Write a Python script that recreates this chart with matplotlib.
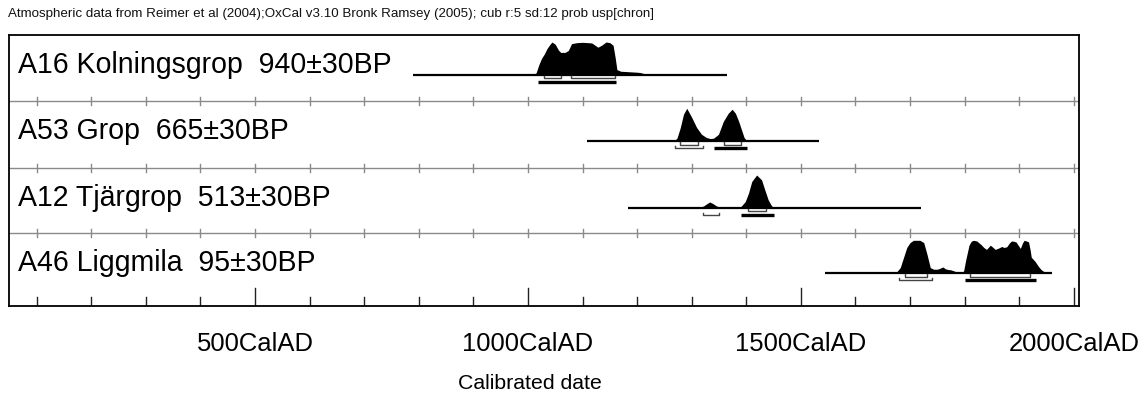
import matplotlib
matplotlib.use("Agg")
import matplotlib.pyplot as plt
import matplotlib.transforms as mtransforms
import numpy as np

# ---------------- data ----------------
title_text = ("Atmospheric data from Reimer et al (2004);OxCal v3.10 Bronk Ramsey (2005); "
              "cub r:5 sd:12 prob usp[chron]")
row_labels = ["A16 Kolningsgrop  940\u00b130BP",
              "A53 Grop  665\u00b130BP",
              "A12 Tj\u00e4rgrop  513\u00b130BP",
              "A46 Liggmila  95\u00b130BP"]

# extent of the plotted baseline (cal AD)
line_ranges = [(790, 1365), (1109, 1534), (1184, 1720), (1545, 1960)]

years1 = [1010, 1015, 1020, 1025, 1030, 1035, 1040, 1044, 1050, 1056, 1060, 1068, 1074,
          1080, 1090, 1100, 1110, 1117, 1123, 1128, 1135, 1143, 1150, 1156, 1160, 1163,
          1170, 1180, 1190, 1200, 1206, 1212, 1220]
dens1 = [0, 0.05, 0.3, 0.5, 0.63, 0.8, 0.92, 1.0, 0.93, 0.75, 0.68, 0.68, 0.74,
         0.95, 0.98, 0.99, 0.98, 0.97, 0.9, 0.84, 0.9, 1.0, 0.98, 0.9, 0.5, 0.15,
         0.1, 0.09, 0.08, 0.07, 0.06, 0.03, 0]

years2 = [1268, 1273, 1279, 1285, 1291, 1300, 1309, 1318, 1327, 1334, 1340, 1349,
          1358, 1367, 1374, 1380, 1386, 1392, 1396, 1401]
dens2 = [0, 0.08, 0.4, 0.82, 1.0, 0.72, 0.41, 0.2, 0.1, 0.07, 0.08, 0.2,
         0.6, 0.85, 0.97, 0.85, 0.6, 0.3, 0.1, 0]

years3 = [1315, 1322, 1328, 1333, 1339, 1345, 1352, 1370, 1389, 1398, 1404, 1410,
          1419, 1428, 1434, 1440, 1446, 1450]
dens3 = [0, 0.05, 0.12, 0.17, 0.12, 0.05, 0.01, 0.01, 0.01, 0.18, 0.44, 0.8,
         1.0, 0.85, 0.54, 0.24, 0.06, 0]

years4 = [1672, 1676, 1682, 1688, 1694, 1700, 1706, 1712, 1718, 1725, 1731, 1737,
          1743, 1750, 1755, 1760, 1765, 1770, 1775, 1780, 1785, 1792, 1798, 1802,
          1808, 1812, 1816, 1822, 1830, 1835, 1840, 1847, 1852, 1856, 1862, 1868,
          1872, 1877, 1882, 1886, 1890, 1894, 1898, 1902, 1906, 1909, 1913, 1917,
          1920, 1922, 1929, 1935, 1940, 1944, 1950]
dens4 = [0, 0.04, 0.16, 0.47, 0.78, 0.93, 1.0, 1.0, 1.0, 0.93, 0.57, 0.16,
         0.11, 0.11, 0.14, 0.18, 0.12, 0.1, 0.09, 0.06, 0.03, 0.01, 0.05, 0.4,
         0.85, 0.97, 1.0, 0.98, 0.87, 0.78, 0.72, 0.85, 0.78, 0.72, 0.76, 0.81,
         0.78, 0.8, 0.92, 0.98, 0.97, 0.95, 0.85, 0.75, 0.92, 1.0, 0.98, 0.95,
         0.7, 0.48, 0.35, 0.2, 0.1, 0.05, 0]

all_years = [years1, years2, years3, years4]
all_dens = [dens1, dens2, dens3, dens4]

# 68.2% ranges (brackets) and 95.4% ranges (brackets / main one as solid bar)
sig1_ranges = [[(1030, 1060), (1079, 1160)],
               [(1279, 1311), (1360, 1391)],
               [(1404, 1436)],
               [(1690, 1731), (1809, 1920)]]
sig2_open = [[],
             [(1270, 1320)],
             [(1321, 1350)],
             [(1680, 1740)]]
sig2_solid = [[(1019, 1162)],
              [(1340, 1401)],
              [(1390, 1450)],
              [(1800, 1930)]]

major_ticks = [500, 1000, 1500, 2000]
minor_ticks = list(range(100, 2001, 100))
tick_labels = ["500CalAD", "1000CalAD", "1500CalAD", "2000CalAD"]
xlabel_text = "Calibrated date"

# ---------------- layout ----------------
W, H = 1143, 410
fig = plt.figure(figsize=(W / 100, H / 100), dpi=100)
fonts = ["Liberation Sans Narrow", "Liberation Sans", "DejaVu Sans"]
plt.rcParams["font.family"] = fonts

ax_left, ax_right, ax_top, ax_bot = 9.3, 1079.3, 36.0, 306.7
ax = fig.add_axes([ax_left / W, 1 - ax_bot / H, (ax_right - ax_left) / W, (ax_bot - ax_top) / H])
ax_h = ax_bot - ax_top
ax.set_xlim(50, 2010)
ax.set_ylim(ax_h, 0)          # y in pixel-like units, 0 at top
ax.set_xticks([])
ax.set_yticks([])
for sp in ax.spines.values():
    sp.set_linewidth(1.3)
    sp.set_color("black")

row_tops = [0.0, 66.3, 133.0, 198.3]
base_off = 39.5
peak_h = 32.5
sep_color = "#8a8a8a"

# separators with cross ticks
for top in row_tops[1:]:
    ax.plot([50, 2010], [top, top], color=sep_color, lw=1.0, zorder=1)
    for t in minor_ticks:
        ax.plot([t, t], [top - 4, top + 4], color=sep_color, lw=1.0, zorder=1)

# bottom axis ticks
for t in minor_ticks:
    ln = 18 if t in major_ticks else 9
    ax.plot([t, t], [ax_h, ax_h - ln], color="#222222", lw=1.0, zorder=1)

for i in range(4):
    base = row_tops[i] + base_off
    yrs = np.array(all_years[i], dtype=float)
    dn = np.array(all_dens[i], dtype=float)
    lo, hi = line_ranges[i]
    ax.plot([lo, hi], [base, base], color="black", lw=1.6, solid_capstyle="butt", zorder=2)
    ax.fill_between(yrs, base, base - dn * peak_h, color="black", lw=0, zorder=3)
    # 68.2% brackets
    y1 = base + 3.8
    for a, b in sig1_ranges[i]:
        ax.plot([a, a, b, b], [y1 - 2.5, y1, y1, y1 - 2.5], color="#444444", lw=1.0, zorder=3)
    y2 = base + 7.6
    for a, b in sig2_open[i]:
        ax.plot([a, a, b, b], [y2 - 2.5, y2, y2, y2 - 2.5], color="#444444", lw=1.0, zorder=3)
    for a, b in sig2_solid[i]:
        ax.plot([a, b], [y2, y2], color="black", lw=2.4, solid_capstyle="butt", zorder=3)

# ---------------- text ----------------
blend = mtransforms.blended_transform_factory(ax.transAxes, ax.transData)
row_texts = []
for i, lab in enumerate(row_labels):
    t = ax.text((18 - ax_left) / (ax_right - ax_left), row_tops[i] + 37.0, lab,
                transform=blend, ha="left", va="baseline", fontsize=16, color="black")
    row_texts.append(t)

tick_texts = []
for yr, lab in zip(major_ticks, tick_labels):
    t = ax.text(yr, 344 - ax_top, lab, ha="center", va="center", fontsize=16,
                color="black", clip_on=False)
    tick_texts.append(t)

xl = fig.text(530 / W, 1 - 384 / H, xlabel_text, ha="center", va="center", fontsize=14, color="black")
tt = fig.text(8 / W, 1 - 14 / H, title_text, ha="left", va="center", fontsize=8, color="#111111")

fig.canvas.draw()
r = fig.canvas.get_renderer()


def fit(texts, target):
    w = texts[0].get_window_extent(renderer=r).width
    s = texts[0].get_fontsize() * target / w
    for t in texts:
        t.set_fontsize(s)


fit(row_texts, 374)
fit(tick_texts, 117)
fit([xl], 146)
fit([tt], 650)

fig.savefig("out.png", dpi=100)
